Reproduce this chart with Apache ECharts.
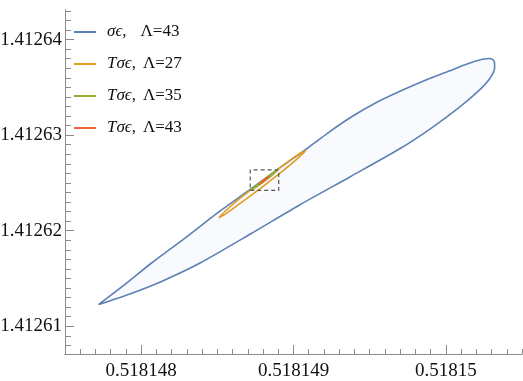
<!DOCTYPE html>
<html lang="en">
<head>
    <meta charset="UTF-8">
    <title>sigma epsilon islands</title>
    <script src="https://cdn.jsdelivr.net/npm/echarts@6/dist/echarts.min.js"></script>
    <style>
        html, body { margin: 0; padding: 0; background: #fff; }
        #chart { width: 523px; height: 381px; }
    </style>
</head>
<body>
    <div id="chart"></div>
    <script>
        // axis ranges and tick labels
        const xRange = [0.5181475, 0.5181505]
        const yRange = [1.4126071, 1.4126431]
        const xMajor = [0.518148, 0.518149, 0.51815]
        const yMajor = [1.41261, 1.41262, 1.41263, 1.41264]

        // sigma-epsilon island, Lambda=43 (closed outline)
        const sigma43 = [
            [0.518147720, 1.41261227], [0.518147900, 1.41261446], [0.518148070, 1.41261665],
            [0.518148290, 1.41261926], [0.518148510, 1.41262197], [0.518148720, 1.41262437],
            [0.518148890, 1.41262636], [0.518149080, 1.41262850], [0.518149227, 1.41263025],
            [0.518149384, 1.41263195], [0.518149541, 1.41263340], [0.518149699, 1.41263460],
            [0.518149862, 1.41263572], [0.518150026, 1.41263674], [0.518150144, 1.41263747],
            [0.518150222, 1.41263786], [0.518150280, 1.41263802], [0.518150310, 1.41263789],
            [0.518150320, 1.41263753], [0.518150320, 1.41263700], [0.518150290, 1.41263596],
            [0.518150220, 1.41263471], [0.518150090, 1.41263293], [0.518149910, 1.41263080],
            [0.518149700, 1.41262860], [0.518149370, 1.41262563], [0.518149040, 1.41262270],
            [0.518148720, 1.41261968], [0.518148390, 1.41261665], [0.518148130, 1.41261467],
            [0.518147930, 1.41261341], [0.518147720, 1.41261227]
        ]

        // T sigma-epsilon islands
        const tsigma27 = [
            [0.518148510, 1.41262135], [0.518148560, 1.41262217], [0.518148650, 1.41262340],
            [0.518148790, 1.41262515], [0.518148930, 1.41262682], [0.518149020, 1.41262786],
            [0.518149080, 1.41262839], [0.518149020, 1.41262747], [0.518148930, 1.41262626],
            [0.518148790, 1.41262452], [0.518148650, 1.41262286], [0.518148560, 1.41262182],
            [0.518148510, 1.41262135]
        ]
        const tsigma35 = [
            [0.518148726, 1.41262427], [0.518148768, 1.41262486], [0.518148811, 1.41262539],
            [0.518148854, 1.41262589], [0.518148893, 1.41262630], [0.518148854, 1.41262575],
            [0.518148811, 1.41262523], [0.518148768, 1.41262472], [0.518148726, 1.41262427]
        ]
        const tsigma43 = [
            [0.518148772, 1.41262482], [0.518148808, 1.41262531], [0.518148844, 1.41262571],
            [0.518148808, 1.41262522], [0.518148772, 1.41262482]
        ]

        // dashed zoom box corners
        const zoomBox = [[0.518148716, 1.41262422], [0.518148903, 1.41262636]]

        const seriesNames = ['σϵ, Λ=43', 'Tσϵ, Λ=27', 'Tσϵ, Λ=35', 'Tσϵ, Λ=43']
        const legendText = {
            'σϵ, Λ=43': '{it|σϵ},{g2|}Λ=43',
            'Tσϵ, Λ=27': '{it|Tσϵ},{g3|}Λ=27',
            'Tσϵ, Λ=35': '{it|Tσϵ},{g3|}Λ=35',
            'Tσϵ, Λ=43': '{it|Tσϵ},{g3|}Λ=43'
        }

        // minor ticks between the labelled ones
        const xMinor = []
        for (let k = 0; k <= 30; k++) {
            const v = Math.round((xRange[0] + k * 1e-7) * 1e7) / 1e7
            if (!xMajor.some(m => Math.abs(m - v) < 1e-9)) xMinor.push(v)
        }
        const yMinor = []
        for (let k = 8; k <= 43; k++) {
            const v = Math.round((1.4126 + k * 1e-6) * 1e6) / 1e6
            if (!yMajor.some(m => Math.abs(m - v) < 1e-8)) yMinor.push(v)
        }

        const boxLoop = [
            [zoomBox[0][0], zoomBox[0][1]], [zoomBox[1][0], zoomBox[0][1]],
            [zoomBox[1][0], zoomBox[1][1]], [zoomBox[0][0], zoomBox[1][1]],
            [zoomBox[0][0], zoomBox[0][1]]
        ]

        const serif = 'Liberation Serif'
        const axisColor = '#8a8a8a'
        const labelFont = { fontFamily: serif, fontSize: 19, color: '#111' }
        const plotRect = { left: 65, top: 10, width: 457, height: 344, outerBoundsMode: 'none', containLabel: false }
        const curveSmooth = 0.25

        function lineSeries(name, data, color, width) {
            return {
                name: name, type: 'line', data: data, smooth: curveSmooth,
                showSymbol: false, symbol: 'none', color: color,
                lineStyle: { color: color, width: width }, z: 3
            }
        }

        // same axis twice: grid 0 carries labels + long ticks, grid 1 only short ticks
        function xAxisFor(grid, ticks, len, labels) {
            return {
                type: 'value', gridIndex: grid, min: xRange[0], max: xRange[1], position: 'bottom',
                axisLine: { show: true, onZero: false, lineStyle: { color: axisColor, width: 1 } },
                axisTick: { show: true, inside: true, length: len, customValues: ticks, lineStyle: { color: axisColor } },
                axisLabel: Object.assign({ show: true, customValues: ticks, margin: 8,
                    formatter: v => labels ? String(parseFloat(v.toFixed(6))) : '' }, labelFont),
                splitLine: { show: false }
            }
        }
        function yAxisFor(grid, ticks, len, labels) {
            return {
                type: 'value', gridIndex: grid, min: yRange[0], max: yRange[1], position: 'left',
                axisLine: { show: true, onZero: false, lineStyle: { color: axisColor, width: 1 } },
                axisTick: { show: true, inside: true, length: len, customValues: ticks, lineStyle: { color: axisColor } },
                axisLabel: Object.assign({ show: true, customValues: ticks, margin: 3,
                    formatter: v => labels ? v.toFixed(5) : '' }, labelFont),
                splitLine: { show: false }
            }
        }

        const chart = echarts.init(document.getElementById('chart'), null, { renderer: 'canvas' })
        chart.setOption({
            animation: false,
            grid: [Object.assign({}, plotRect), Object.assign({}, plotRect)],
            legend: {
                orient: 'vertical', left: 74, top: 22, padding: 0,
                icon: 'rect', itemWidth: 22, itemHeight: 2, itemGap: 12,
                selectedMode: false,
                data: seriesNames,
                formatter: name => legendText[name],
                textStyle: {
                    fontFamily: serif, fontSize: 17, color: '#111',
                    lineHeight: 20, padding: [0, 0, 0, 6],
                    rich: {
                        it: { fontFamily: serif, fontStyle: 'italic', fontSize: 17, lineHeight: 20 },
                        g2: { width: 14 },
                        g3: { width: 7 }
                    }
                }
            },
            xAxis: [xAxisFor(0, xMajor, 9, true), xAxisFor(1, xMinor, 5, false)],
            yAxis: [yAxisFor(0, yMajor, 9, true), yAxisFor(1, yMinor, 6, false)],
            series: [
                {
                    // light fill of the big island
                    type: 'custom', silent: true, z: 1,
                    data: [sigma43[0]],
                    renderItem: (params, api) => ({
                        type: 'polygon',
                        shape: { points: sigma43.map(p => api.coord(p)), smooth: curveSmooth },
                        style: { fill: '#f8fafe' }
                    })
                },
                lineSeries(seriesNames[0], sigma43, '#5e81b5', 1.6),
                lineSeries(seriesNames[1], tsigma27, '#e19c24', 1.6),
                lineSeries(seriesNames[2], tsigma35, '#8fb032', 1.8),
                lineSeries(seriesNames[3], tsigma43, '#eb6235', 1.6),
                {
                    type: 'line', data: boxLoop, showSymbol: false, symbol: 'none', silent: true,
                    lineStyle: { color: '#555', width: 1.2, type: [4, 3] }, z: 4
                },
                {
                    // keeps the minor-tick grid alive
                    type: 'line', xAxisIndex: 1, yAxisIndex: 1, data: [[xRange[0], yRange[0]]],
                    showSymbol: false, symbol: 'none', silent: true, lineStyle: { width: 0 }
                }
            ]
        })
    </script>
</body>
</html>
